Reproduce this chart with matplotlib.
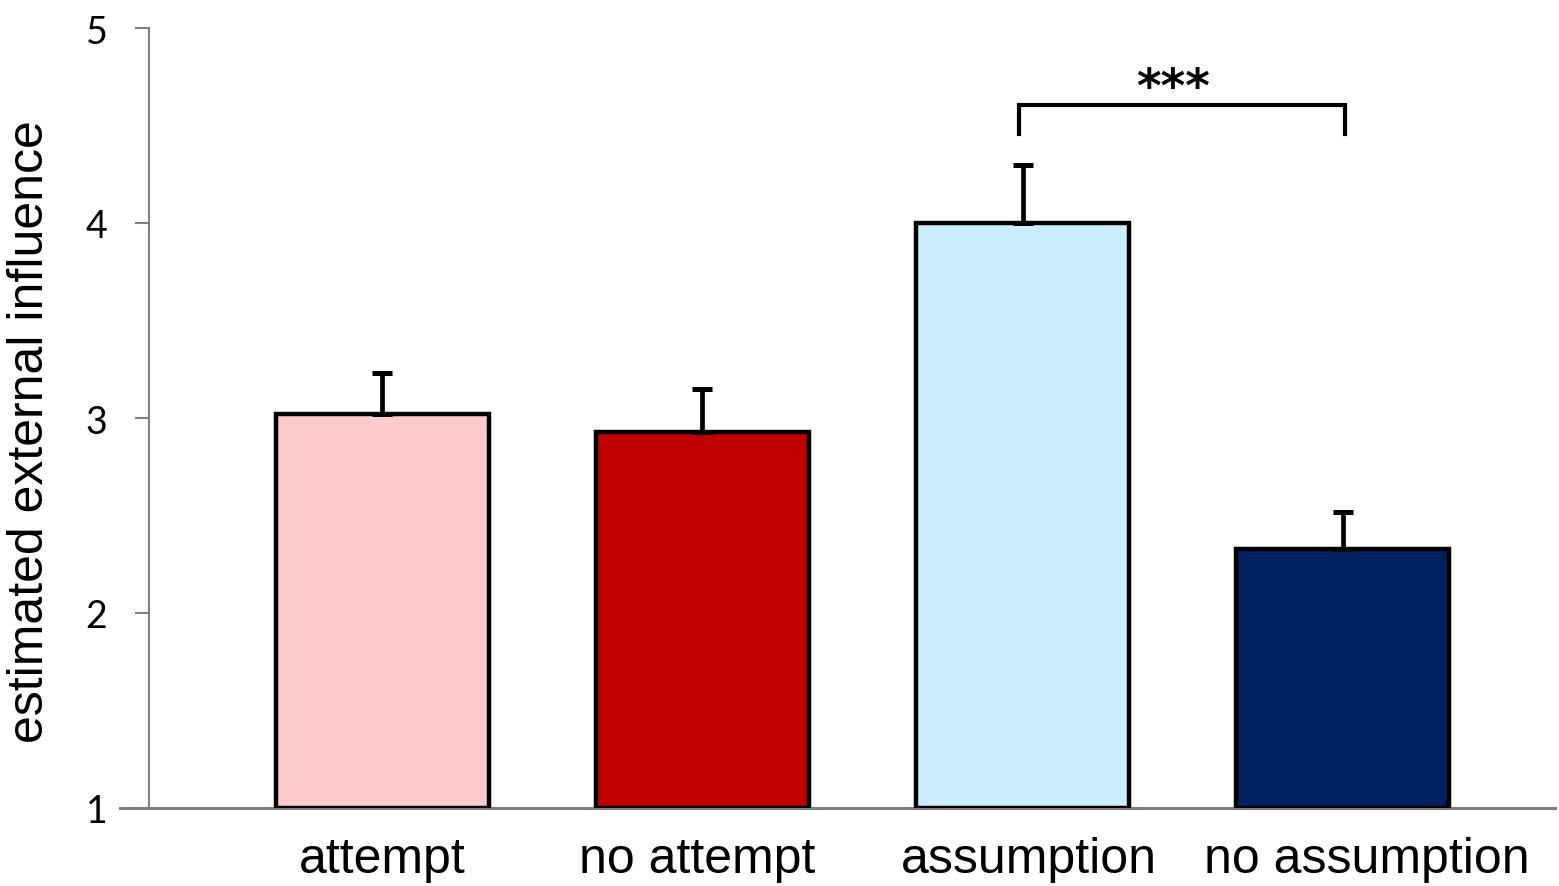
import numpy as np
import matplotlib.pyplot as plt
from matplotlib.transforms import ScaledTranslation

categories = ["attempt", "no attempt", "assumption", "no assumption"]
means = [3.02, 2.93, 4.00, 2.33]
errors = [0.21, 0.22, 0.30, 0.19]
colors = ["#FDCBCB", "#C00000", "#CCECFF", "#002060"]
sig_pair = (2, 3)
sig_label = "***"

fig = plt.figure(figsize=(15.59, 8.87), dpi=100)
ax = fig.add_axes([120 / 1559, 1 - 809 / 887, 1435 / 1559, 780 / 887])

ax.spines["top"].set_visible(False)
ax.spines["right"].set_visible(False)
ax.spines["left"].set_position(("data", -0.727))
ax.spines["left"].set_color("#808080")
ax.spines["left"].set_linewidth(1.5)
ax.spines["bottom"].set_color("#808080")
ax.spines["bottom"].set_linewidth(2.2)
ax.spines["bottom"].set_zorder(1)

x = np.arange(len(categories))
ax.bar(x, [m - 1 for m in means], bottom=1, width=0.665, color=colors,
       edgecolor="black", linewidth=3.2, zorder=2)
ax.errorbar(x, means, yerr=[np.zeros(len(errors)), errors], fmt="none",
            ecolor="black", elinewidth=3.4, capsize=7, capthick=3.6, zorder=3)

# significance bracket
i, j = sig_pair
top = max(m + e for m, e in zip(means, errors)) + 0.305
leg = 0.15
ax.plot([i - 0.01, i - 0.01, j + 0.007, j + 0.007], [top - leg, top, top, top - leg],
        color="black", linewidth=3, solid_joinstyle="miter", clip_on=False)
ax.text((i + j) / 2 - 0.03, top - 0.03, sig_label, ha="center", va="bottom",
        fontsize=34, fontweight="bold", family="DejaVu Sans")

ax.set_xlim(-0.818, 3.662)
ax.set_ylim(1, 5)
ax.set_xticks(x)
ax.set_xticklabels(categories, fontsize=36, family="Liberation Sans")
ax.set_yticks([1, 2, 3, 4, 5])
ax.set_yticklabels(["1", "2", "3", "4", "5"], fontsize=27, family="Lato")
ax.tick_params(axis="x", length=0, pad=20)
ax.tick_params(axis="y", direction="out", length=10, width=1.5, color="#808080", pad=20)

# excel places the category labels a little off the bar centres
for lbl, dx in zip(ax.get_xticklabels(), [0, -5, 6, 24]):
    lbl.set_transform(lbl.get_transform() + ScaledTranslation(dx / 100, 0, fig.dpi_scale_trans))

fig.text(30 / 1559, 1 - 432 / 887, "estimated external influence", rotation=90,
         ha="center", va="center", fontsize=36, family="Liberation Sans")

fig.savefig("out.png", dpi=100)
